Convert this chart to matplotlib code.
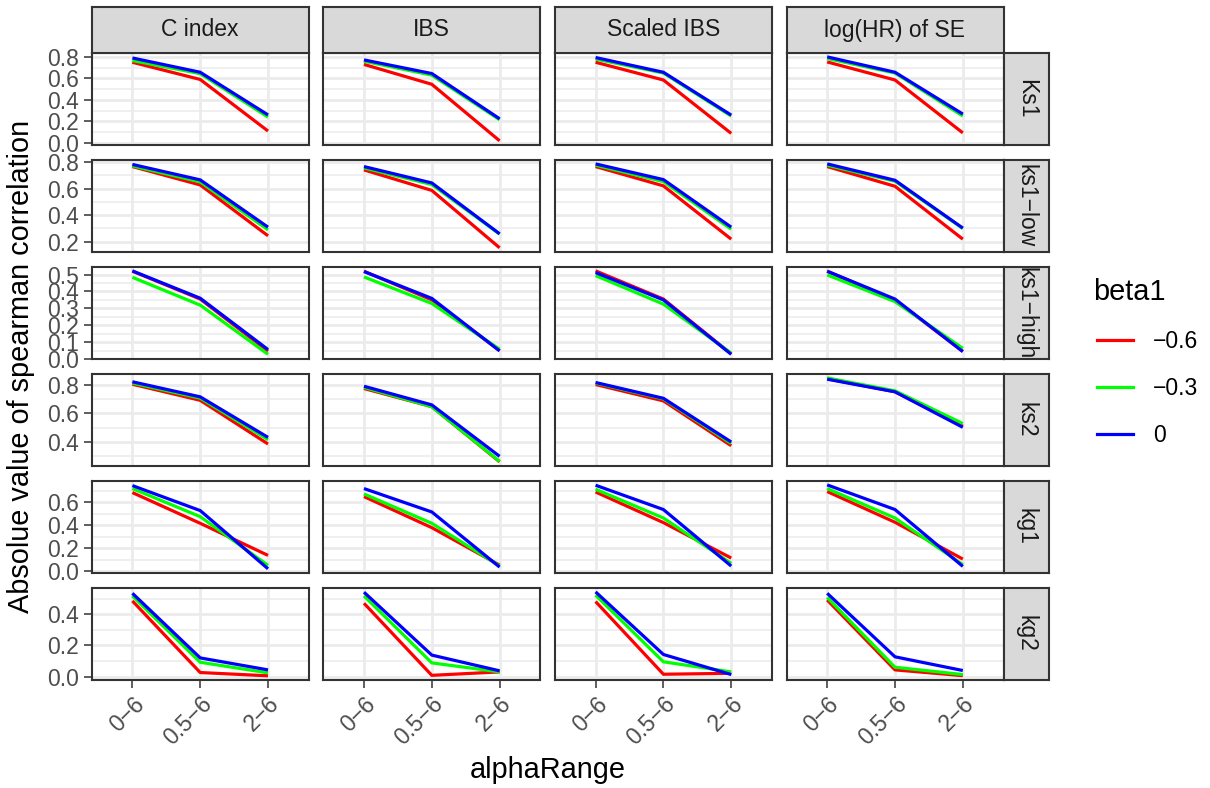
import matplotlib
matplotlib.use("Agg")
import matplotlib.pyplot as plt
from matplotlib.lines import Line2D
import numpy as np

plt.rcParams['font.family'] = ['Liberation Sans', 'DejaVu Sans']

# ---------------- data ----------------
alpha_range = ["0\u22126", "0.5\u22126", "2\u22126"]
metrics = ["C index", "IBS", "Scaled IBS", "log(HR) of SE"]
scenarios = ["Ks1", "ks1\u2212low", "ks1\u2212high", "ks2", "kg1", "kg2"]
beta_labels = ["\u22120.6", "\u22120.3", "0"]
beta_colors = ["#FF0000", "#00FF00", "#0000FF"]

# each: per metric (C index, IBS, Scaled IBS, log(HR) of SE) values at alphaRange 0-6, 0.5-6, 2-6
Ks1_m06 = [[0.750, 0.590, 0.110], [0.730, 0.545, 0.019], [0.750, 0.585, 0.088], [0.753, 0.585, 0.093]]
Ks1_m03 = [[0.766, 0.644, 0.240], [0.760, 0.630, 0.215], [0.780, 0.650, 0.250], [0.785, 0.650, 0.250]]
Ks1_0   = [[0.790, 0.657, 0.260], [0.772, 0.645, 0.224], [0.794, 0.657, 0.258], [0.800, 0.657, 0.268]]

ks1low_m06 = [[0.765, 0.627, 0.245], [0.740, 0.586, 0.155], [0.765, 0.620, 0.220], [0.765, 0.617, 0.220]]
ks1low_m03 = [[0.770, 0.650, 0.290], [0.755, 0.630, 0.258], [0.775, 0.652, 0.295], [0.775, 0.655, 0.300]]
ks1low_0   = [[0.781, 0.665, 0.310], [0.765, 0.642, 0.260], [0.785, 0.667, 0.310], [0.785, 0.662, 0.303]]

ks1high_m06 = [[0.520, 0.355, 0.046], [0.520, 0.350, 0.050], [0.522, 0.355, 0.030], [0.520, 0.350, 0.045]]
ks1high_m03 = [[0.484, 0.319, 0.028], [0.486, 0.329, 0.058], [0.494, 0.325, 0.035], [0.498, 0.340, 0.063]]
ks1high_0   = [[0.522, 0.360, 0.056], [0.518, 0.359, 0.048], [0.512, 0.350, 0.028], [0.520, 0.355, 0.044]]

ks2_m06 = [[0.802, 0.690, 0.386], [0.772, 0.646, 0.262], [0.800, 0.686, 0.374], [0.840, 0.750, 0.510]]
ks2_m03 = [[0.810, 0.705, 0.416], [0.780, 0.645, 0.265], [0.810, 0.700, 0.390], [0.846, 0.756, 0.528]]
ks2_0   = [[0.819, 0.714, 0.432], [0.788, 0.658, 0.300], [0.814, 0.704, 0.400], [0.837, 0.749, 0.502]]

kg1_m06 = [[0.685, 0.417, 0.137], [0.650, 0.379, 0.052], [0.690, 0.423, 0.114], [0.694, 0.426, 0.105]]
kg1_m03 = [[0.720, 0.475, 0.050], [0.673, 0.417, 0.045], [0.714, 0.463, 0.067], [0.720, 0.463, 0.056]]
kg1_0   = [[0.746, 0.528, 0.020], [0.720, 0.516, 0.035], [0.749, 0.537, 0.044], [0.752, 0.537, 0.041]]

kg2_m06 = [[0.486, 0.026, 0.005], [0.471, 0.008, 0.030], [0.482, 0.015, 0.021], [0.492, 0.043, 0.006]]
kg2_m03 = [[0.518, 0.092, 0.024], [0.518, 0.088, 0.030], [0.523, 0.095, 0.030], [0.508, 0.060, 0.013]]
kg2_0   = [[0.535, 0.120, 0.043], [0.542, 0.138, 0.037], [0.544, 0.142, 0.013], [0.535, 0.127, 0.039]]

row_data = [
    [Ks1_m06, Ks1_m03, Ks1_0],
    [ks1low_m06, ks1low_m03, ks1low_0],
    [ks1high_m06, ks1high_m03, ks1high_0],
    [ks2_m06, ks2_m03, ks2_0],
    [kg1_m06, kg1_m03, kg1_0],
    [kg2_m06, kg2_m03, kg2_0],
]
row_ticks = [
    [0.0, 0.2, 0.4, 0.6, 0.8],
    [0.2, 0.4, 0.6, 0.8],
    [0.0, 0.1, 0.2, 0.3, 0.4, 0.5],
    [0.4, 0.6, 0.8],
    [0.0, 0.2, 0.4, 0.6],
    [0.0, 0.2, 0.4],
]

# ---------------- layout (pixels) ----------------
W, H = 1210, 788
fig = plt.figure(figsize=(W / 100, H / 100), dpi=100)

L0, PW, HG = 91.7, 217.0, 14.6
T0, PH, VG = 52.7, 92.3, 14.7
STRIP_TOP = 7.3
STRIP_R = 45.7

SMALL = 16.5
BIG = 20.8

def fax(x0, y0, w, h):
    return fig.add_axes([x0 / W, 1 - (y0 + h) / H, w / W, h / H])

border = "#333333"
grid_c = "#EBEBEB"
tick_c = "#4D4D4D"
strip_fill = "#D9D9D9"
strip_txt = "#1A1A1A"

xpos = np.arange(1, len(alpha_range) + 1)

for r in range(len(scenarios)):
    vals = np.array(row_data[r], dtype=float)
    lo, hi = vals.min(), vals.max()
    pad = 0.05 * (hi - lo)
    ylim = (lo - pad, hi + pad)
    ticks = row_ticks[r]
    step = ticks[1] - ticks[0]
    minors = [t + step / 2 for t in [ticks[0] - step] + ticks]
    minors = [m for m in minors if ylim[0] <= m <= ylim[1]]
    y0 = T0 + r * (PH + VG)
    for c in range(len(metrics)):
        x0 = L0 + c * (PW + HG)
        ax = fax(x0, y0, PW, PH)
        ax.set_xlim(0.4, 3.6)
        ax.set_ylim(*ylim)
        for m in minors:
            ax.axhline(m, color=grid_c, lw=1.1, zorder=0)
        for t in ticks:
            ax.axhline(t, color=grid_c, lw=2.0, zorder=0)
        for xp in xpos:
            ax.axvline(xp, color=grid_c, lw=2.0, zorder=0)
        for b in range(len(beta_labels)):
            ax.plot(xpos, vals[b][c], color=beta_colors[b], lw=2.3, zorder=2 + b,
                    solid_capstyle='butt')
        for s in ax.spines.values():
            s.set_color(border)
            s.set_linewidth(1.5)
            s.set_zorder(10)
        ax.set_xticks(xpos)
        ax.set_yticks(ticks)
        ax.tick_params(axis='both', length=5.5, width=1.1, color=border,
                       labelsize=SMALL, labelcolor=tick_c, pad=3.4)
        if c == 0:
            ax.set_yticklabels(["%.1f" % t for t in ticks])
        else:
            ax.tick_params(axis='y', length=0, labelleft=False)
        if r == len(scenarios) - 1:
            ax.set_xticklabels(alpha_range, rotation=45, ha='right', va='top',
                               rotation_mode='anchor')
        else:
            ax.tick_params(axis='x', length=0, labelbottom=False)
        # column strips
        if r == 0:
            sax = fax(x0, STRIP_TOP, PW, T0 - STRIP_TOP)
            sax.set_facecolor(strip_fill)
            sax.set_xticks([]); sax.set_yticks([])
            for s in sax.spines.values():
                s.set_color(border); s.set_linewidth(1.5)
            sax.text(0.5, 0.5, metrics[c], ha='center', va='center', fontsize=SMALL,
                     color=strip_txt, transform=sax.transAxes, clip_on=True)
    # row strip
    rax = fax(L0 + 4 * PW + 3 * HG, y0, STRIP_R, PH)
    rax.set_facecolor(strip_fill)
    rax.set_xticks([]); rax.set_yticks([])
    for s in rax.spines.values():
        s.set_color(border); s.set_linewidth(1.5)
    rax.text(0.5, 0.5, scenarios[r], ha='center', va='center', rotation=-90,
             fontsize=SMALL, color=strip_txt, transform=rax.transAxes, clip_on=True)

# axis titles
fig.text(21 / W, 1 - 366 / H, "Absolue value of spearman correlation", rotation=90,
         ha='center', va='center', fontsize=BIG, color='black')
fig.text(548 / W, 1 - 770 / H, "alphaRange", ha='center', va='center',
         fontsize=BIG, color='black')

# legend
fig.text(1093 / W, 1 - 292 / H, "beta1", ha='left', va='center', fontsize=BIG,
         color='black')
handles = [Line2D([], [], color=col, lw=2.3) for col in beta_colors]
leg = fig.legend(handles, beta_labels, loc='upper left',
                 bbox_to_anchor=(1097 / W, 1 - 330 / H), frameon=False,
                 fontsize=SMALL, handlelength=1.57,
                 handletextpad=0.87, labelspacing=1.05, borderpad=0,
                 borderaxespad=0)

fig.savefig("out.png", dpi=100)
